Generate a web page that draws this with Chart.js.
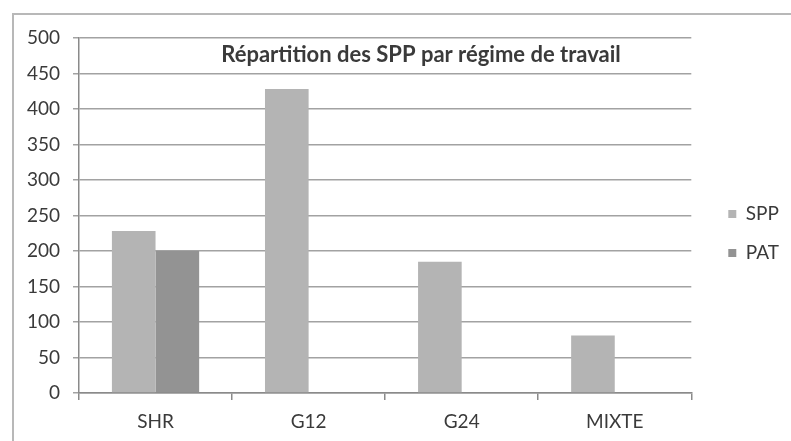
<!DOCTYPE html>
<html>
<head>
<meta charset="utf-8">
<script src="https://cdn.jsdelivr.net/npm/chart.js@4/dist/chart.umd.min.js"></script>
<style>
  html, body { margin: 0; padding: 0; background: #fff; }
  #frame {
    position: absolute; left: 12px; top: 13px; width: 779px; height: 428px;
    border-top: 2px solid #b8b8b8; border-left: 2px solid #b8b8b8;
  }
  #wrap { position: absolute; left: 0; top: 0; width: 791px; height: 441px; }
</style>
</head>
<body>
<div id="frame"></div>
<div id="wrap"><canvas id="myChart"></canvas></div>
<script>
const categories = ['SHR', 'G12', 'G24', 'MIXTE'];
const sppValues = [228, 428, 185, 81];
const patValues = [200, 0, 0, 0];
const yTicks = [0, 50, 100, 150, 200, 250, 300, 350, 400, 450, 500];
const chartTitle = 'Répartition des SPP par régime de travail';

// title sits inside the plot area, like the original
const innerTitle = {
    id: 'innerTitle',
    afterLayout(chart) {
        // push the legend a bit away from the plot
        if (chart.legend) {
            chart.legend.left += 17;
            chart.legend.right += 17;
        }
    },
    afterDraw(chart) {
        const ctx = chart.ctx;
        ctx.save();
        ctx.font = 'bold 22px Lato';
        ctx.fillStyle = '#3a3a3a';
        ctx.textAlign = 'center';
        ctx.textBaseline = 'middle';
        ctx.fillText(chartTitle, 421, 55);
        ctx.restore();
    }
};

const data = {
    labels: categories,
    datasets: [
        { label: 'SPP', data: sppValues, backgroundColor: '#b4b4b4' },
        { label: 'PAT', data: patValues, backgroundColor: '#939393' }
    ]
};

const tickFont = { family: 'Lato', size: 19 };

const config = {
    type: 'bar',
    data: data,
    plugins: [innerTitle],
    options: {
        responsive: true,
        maintainAspectRatio: false,
        animation: false,
        layout: { padding: { left: 20, top: 38, right: 19, bottom: 12 } },
        datasets: { bar: { categoryPercentage: 0.57, barPercentage: 1 } },
        plugins: {
            legend: {
                position: 'right',
                labels: {
                    boxWidth: 8, boxHeight: 8, padding: 20,
                    color: '#3a3a3a',
                    font: tickFont
                }
            },
            tooltip: { enabled: false }
        },
        scales: {
            x: {
                afterFit: (scale) => { scale.height = 36; },
                grid: { drawOnChartArea: false, tickLength: 7, color: '#8a8a8a', lineWidth: 1.5 },
                border: { color: '#8a8a8a', width: 1.5 },
                ticks: { color: '#3a3a3a', font: tickFont, padding: 10 }
            },
            y: {
                min: 0, max: 500,
                afterBuildTicks: (scale) => { scale.ticks = yTicks.map(v => ({ value: v })); },
                afterFit: (scale) => { scale.width = 59; },
                grid: { color: '#a2a2a2', lineWidth: 1.5, tickLength: 6 },
                border: { color: '#8a8a8a', width: 1.5 },
                ticks: { color: '#3a3a3a', font: tickFont, padding: 13 }
            }
        }
    }
};

const myChart = new Chart(document.getElementById('myChart'), config);
</script>
</body>
</html>
